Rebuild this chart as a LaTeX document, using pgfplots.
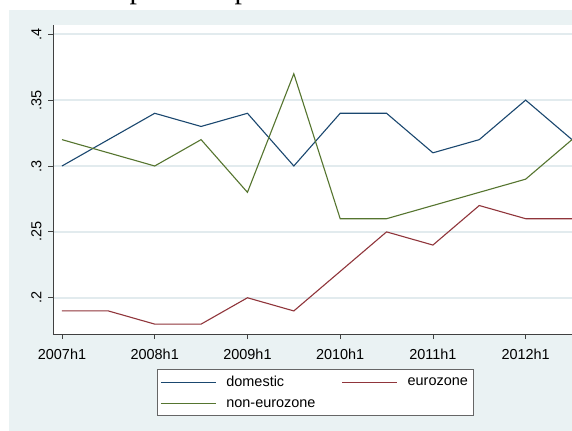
\documentclass[border=0pt]{standalone}
\usepackage{fontspec}
\setmainfont{Liberation Sans}
\newfontfamily\titlefont{Liberation Serif}
\usepackage{pgfplots}
\pgfplotsset{compat=1.18}

\definecolor{stnavy}{RGB}{26,71,111}
\definecolor{stmaroon}{RGB}{144,53,59}
\definecolor{stgreen}{RGB}{85,117,47}
\definecolor{stbg}{RGB}{234,242,243}
\definecolor{stgrid}{RGB}{226,235,238}

% half-years, 0 = 2007h1 ... 11 = 2012h2
\pgfplotstableread{
t   domestic eurozone noneuro
0   0.30     0.19     0.32
1   0.32     0.19     0.31
2   0.34     0.18     0.30
3   0.33     0.18     0.32
4   0.34     0.20     0.28
5   0.30     0.19     0.37
6   0.34     0.22     0.26
7   0.34     0.25     0.26
8   0.31     0.24     0.27
9   0.32     0.27     0.28
10  0.35     0.26     0.29
11  0.32     0.26     0.32
}\shares

\begin{document}
\begin{tikzpicture}
\useasboundingbox (0bp,0bp) rectangle (572bp,431bp);
\clip (0bp,0bp) rectangle (572bp,431bp);
% cropped title: only descenders show
\node[anchor=base west, inner sep=0, font=\titlefont\fontsize{30}{32}\selectfont] at (129.5bp,432bp) {p};
\node[anchor=base west, inner sep=0, font=\titlefont\fontsize{30}{32}\selectfont] at (234.5bp,432bp) {p};
\fill[stbg] (9bp,0bp) rectangle (572bp,421bp);
\begin{axis}[
    at={(53bp,97bp)}, anchor=south west,
    scale only axis, width=519bp, height=309bp,
    xmin=-0.194, xmax=11, ymin=0.1725, ymax=0.407,
    axis background/.style={fill=white},
    axis x line*=bottom, axis y line*=left,
    axis line style={-, black!75, line width=0.8bp},
    tick align=outside, major tick length=5bp,
    tick style={black!75, line width=0.8bp},
    xtick={0,2,4,6,8,10},
    xticklabels={2007h1,2008h1,2009h1,2010h1,2011h1,2012h1},
    ytick={0.2,0.25,0.3,0.35,0.4},
    yticklabels={.2,.25,.3,.35,.4},
    ymajorgrids, grid style={stgrid, line width=1.5bp},
    tick label style={font=\fontsize{14.5}{17}\selectfont},
    xticklabel shift=7bp,
    yticklabel shift=3bp,
    yticklabel style={rotate=90, anchor=south},
    legend columns=2,
    legend cell align=left,
    legend image code/.code={\draw[#1, line width=1.1bp] (0bp,0bp) -- (55bp,0bp);},
    legend style={at={(0.2004,-0.1133)}, anchor=north west,
        draw=black!60, fill=white, line width=0.6bp,
        font=\fontsize{14.5}{17}\selectfont,
        inner xsep=3bp, inner ysep=5bp,
        /tikz/row sep=7bp,
        /tikz/every odd column/.append style={column sep=8bp},
        /tikz/every even column/.append style={column sep=24bp}},
    every axis plot/.append style={line width=1.1bp},
]
\addplot[stnavy] table[x=t, y=domestic] {\shares};
\addplot[stmaroon] table[x=t, y=eurozone] {\shares};
\addplot[stgreen] table[x=t, y=noneuro] {\shares};
\legend{domestic, eurozone, non-eurozone}
\end{axis}
\end{tikzpicture}
\end{document}
